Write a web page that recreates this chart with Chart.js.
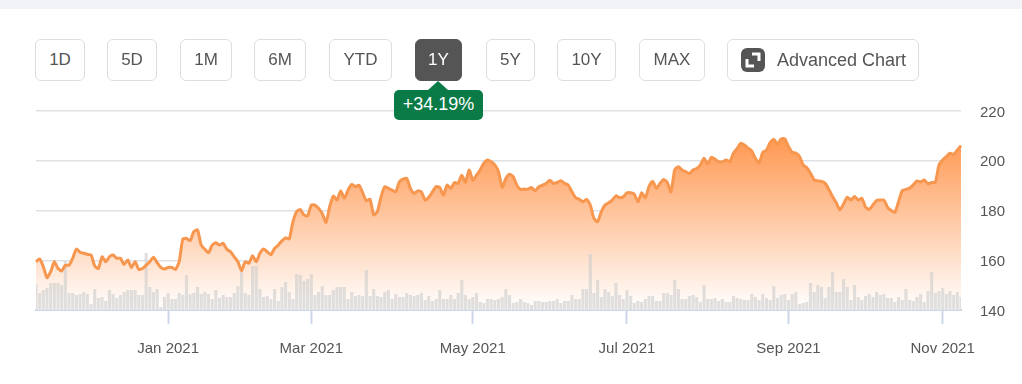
<!DOCTYPE html>
<html>
<head>
<meta charset="utf-8">
<title>1Y price chart</title>
<script src="https://cdn.jsdelivr.net/npm/chart.js@4"></script>
<style>
  html, body { margin: 0; padding: 0; background: #fff; width: 1022px; height: 384px; overflow: hidden; font-family: "Liberation Sans", Arial, sans-serif; }
  #strip { position: absolute; left: 0; top: 0; width: 1022px; height: 9px; background: #f2f3f7; }
  .btn { position: absolute; top: 39px; height: 40px; line-height: 40px; border: 1px solid #dedede; border-radius: 6px; box-sizing: content-box; text-align: center; font-size: 17px; color: #555; background: #fff; }
  .btn.active { background: #555; border-color: #555; color: #fff; }
  #badge { position: absolute; left: 394px; top: 90px; width: 89px; height: 30px; line-height: 29px; background: #0a7a47; color: #fff; border-radius: 5px; text-align: center; font-size: 18px; }
  #badge:before { content: ""; position: absolute; left: 34px; top: -9px; border-left: 10px solid transparent; border-right: 10px solid transparent; border-bottom: 9px solid #0a7a47; }
  #icon { position: absolute; left: 13px; top: 8px; }
  #advLabel { position: absolute; left: 49px; top: 0; font-size: 18px; white-space: nowrap; }
</style>
</head>
<body>
<div id="strip"></div>
<canvas id="priceChart" width="1022" height="384" style="position:absolute;left:0;top:0"></canvas>
<div id="buttons"></div>
<div id="badge">+34.19%</div>
<script>
const rangeNames = ["1D", "5D", "1M", "6M", "YTD", "1Y", "5Y", "10Y", "MAX"];
const rangeLefts = [35, 107, 180, 254, 329, 415, 486, 557, 639];
const rangeWidths = [48, 48, 50, 50, 61, 45, 47, 57, 64];
const activeRange = "1Y";

const tickIndex = [36, 75, 119, 161, 205, 247];
const tickLabels = ["Jan 2021", "Mar 2021", "May 2021", "Jul 2021", "Sep 2021", "Nov 2021"];

// daily close
const prices = [
  159.4, 160.5, 157.4, 153, 155.4, 159.4, 156.7, 155.7, 158, 158,
  160.8, 164.5, 163.2, 162.8, 162.4, 162.1, 157.7, 156.7, 161.4, 159.4,
  161.4, 162.1, 160.8, 160.8, 158.3, 160.1, 157.1, 159.4, 156.3, 156.7,
  158, 159.4, 161.2, 159, 157.1, 156.5, 157.1, 157.1, 156.3, 159.4,
  168.5, 168.8, 167.9, 171.5, 172.2, 166.1, 164.4, 163, 166.1, 167,
  166.1, 166.8, 164.4, 163.4, 161.4, 159.4, 155.8, 159.4, 158.8, 161.8,
  159.4, 162.8, 164.5, 163.4, 162.2, 164.8, 166.1, 167.8, 169, 168.6,
  175.5, 179.5, 180.4, 178.2, 177.8, 182.2, 182.2, 180.8, 178.8, 175.2,
  181.5, 185.8, 184.2, 187.9, 184.9, 188.2, 190.5, 189.6, 190.2, 187.1,
  183.9, 184.5, 178.2, 179.5, 185.5, 189.6, 188.9, 188.2, 187.5, 191.6,
  192.6, 192.9, 188.9, 186.9, 187.9, 187.5, 184.2, 185.3, 187.5, 189.6,
  189.3, 186.2, 190.2, 188.9, 191.3, 190.9, 194.2, 191.3, 196.3, 192.2,
  194.2, 196.3, 199, 200.3, 199.6, 198.3, 195.6, 189.3, 192.9, 194.6,
  193.6, 190.2, 188.5, 188.6, 188.6, 189.2, 187.9, 189.6, 190.2, 190.9,
  192.2, 190.9, 191.3, 192, 190.9, 190.2, 187.5, 185.1, 184.5, 183.5,
  184.5, 182.2, 176.8, 175.5, 179.5, 182.2, 183.1, 184.2, 185.9, 185.1,
  185.5, 187.1, 187.1, 186.6, 183.5, 187.1, 185.1, 189.6, 191.8, 188.9,
  190.9, 192.5, 191.3, 187.5, 196.3, 197.6, 196.3, 195.6, 194.9, 196.3,
  196.9, 198.3, 201, 198.7, 201.4, 200.6, 199.6, 199.6, 200.3, 199.6,
  203, 204.9, 207, 206.3, 205.1, 203.9, 201, 199.2, 203.4, 204.3,
  207.3, 208.6, 206.7, 208.8, 208.8, 205.7, 203.4, 203.1, 201.7, 198.3,
  197.2, 195, 192.3, 191.9, 191.7, 190.9, 188.5, 185.6, 183.2, 180.2,
  182.6, 185.3, 184.2, 185.6, 184.2, 184.9, 181.3, 180.5, 182.2, 184,
  184.2, 184.2, 181.3, 180, 179.3, 183.6, 188, 188.5, 189, 190.3,
  191.9, 191.5, 192.3, 190.7, 191.3, 191.3, 198.3, 200.3, 201.7, 203,
  202.6, 204.3, 206.1
];

// volume bars, relative height
const volumes = [
  26, 17, 20, 22, 27, 27, 27, 25, 49, 17,
  17, 15, 16, 18, 16, 6, 21, 12, 13, 9,
  20, 16, 12, 15, 18, 20, 20, 20, 15, 15,
  57, 23, 18, 21, 3, 13, 17, 11, 11, 17,
  15, 35, 16, 17, 23, 16, 18, 16, 11, 20,
  12, 15, 13, 13, 17, 24, 41, 17, 15, 44,
  44, 21, 13, 14, 11, 21, 9, 23, 28, 18,
  11, 36, 35, 29, 31, 36, 15, 18, 24, 15,
  15, 20, 23, 23, 23, 11, 18, 14, 15, 14,
  40, 14, 21, 14, 13, 18, 20, 11, 16, 13,
  13, 17, 15, 14, 15, 17, 10, 14, 9, 11,
  20, 11, 11, 15, 11, 17, 30, 15, 11, 13,
  17, 8, 7, 11, 11, 10, 11, 13, 21, 15,
  7, 8, 11, 8, 7, 5, 9, 9, 8, 8,
  9, 9, 11, 7, 9, 9, 15, 11, 11, 21,
  21, 56, 17, 30, 13, 21, 18, 14, 27, 15,
  11, 20, 14, 7, 9, 8, 11, 14, 14, 9,
  9, 17, 17, 15, 30, 21, 11, 11, 14, 15,
  13, 8, 25, 11, 11, 12, 9, 11, 8, 8,
  14, 12, 11, 10, 10, 16, 13, 10, 16, 12,
  10, 24, 12, 15, 16, 10, 16, 18, 6, 7,
  8, 27, 18, 25, 23, 12, 23, 38, 18, 18,
  31, 23, 10, 25, 13, 10, 14, 16, 13, 18,
  15, 16, 12, 12, 8, 13, 10, 21, 10, 9,
  13, 16, 8, 19, 38, 17, 19, 22, 16, 19,
  15, 18, 13
];

const volumeAxisMax = 199;

function buildButtons() {
  const holder = document.getElementById("buttons");
  rangeNames.forEach((name, i) => {
    const btn = document.createElement("div");
    btn.className = name === activeRange ? "btn active" : "btn";
    btn.style.left = rangeLefts[i] + "px";
    btn.style.width = rangeWidths[i] + "px";
    btn.textContent = name;
    holder.appendChild(btn);
  });

  const adv = document.createElement("div");
  adv.className = "btn";
  adv.style.left = "727px";
  adv.style.width = "190px";
  adv.innerHTML =
    '<svg id="icon" width="24" height="24" viewBox="0 0 24 24">' +
    '<rect width="24" height="24" rx="6" fill="#555"/>' +
    '<path d="M11 6H18V13M13 18H6V11" fill="none" stroke="#fff" stroke-width="3"/>' +
    "</svg>" +
    '<span id="advLabel">Advanced Chart</span>';
  holder.appendChild(adv);
}

function areaGradient(context) {
  const area = context.chart.chartArea;
  if (!area) {
    return "#ffd0b0";
  }
  const gradient = context.chart.ctx.createLinearGradient(0, 138, 0, area.bottom);
  gradient.addColorStop(0, "rgb(255, 152, 82)");
  gradient.addColorStop(1, "rgb(255, 255, 255)");
  return gradient;
}

buildButtons();

const labels = prices.map((p, i) => i);

new Chart(document.getElementById("priceChart").getContext("2d"), {
  data: {
    labels: labels,
    datasets: [
      {
        type: "line",
        data: prices,
        yAxisID: "y",
        borderWidth: 0,
        backgroundColor: areaGradient,
        fill: "start",
        pointRadius: 0,
        tension: 0.2,
        order: 3,
      },
      {
        type: "bar",
        data: volumes,
        yAxisID: "volume",
        backgroundColor: "rgba(205, 205, 205, 0.62)",
        barPercentage: 0.85,
        categoryPercentage: 1,
        order: 2,
      },
      {
        type: "line",
        data: prices,
        yAxisID: "y",
        borderColor: "#f7964e",
        borderWidth: 3,
        fill: false,
        pointRadius: 0,
        tension: 0.2,
        order: 1,
      },
    ],
  },
  options: {
    responsive: false,
    animation: false,
    layout: { padding: { left: 36, top: 111, right: 0, bottom: 0 } },
    plugins: { legend: { display: false }, tooltip: { enabled: false }, title: { display: false } },
    scales: {
      x: {
        type: "category",
        offset: false,
        border: { color: "#ccd6eb", width: 2 },
        grid: { offset: false, drawOnChartArea: false, drawTicks: true, tickLength: 14, tickColor: "#ccd6eb", tickWidth: 2 },
        afterBuildTicks: (axis) => {
          axis.ticks = axis.ticks.filter((t) => tickIndex.includes(t.value));
        },
        afterFit: (axis) => {
          axis.height = 74;
        },
        ticks: {
          autoSkip: false,
          maxRotation: 0,
          minRotation: 0,
          padding: 16,
          color: "#555",
          font: { family: "'Liberation Sans', Arial, sans-serif", size: 15 },
          callback: (value) => tickLabels[tickIndex.indexOf(value)],
        },
      },
      y: {
        position: "right",
        min: 140,
        max: 220,
        border: { display: false },
        grid: { color: "#dfe1e6", lineWidth: 1.5, drawTicks: false },
        afterFit: (axis) => {
          axis.width = 61;
        },
        ticks: {
          stepSize: 20,
          padding: 19,
          labelOffset: 1.5,
          color: "#555",
          font: { family: "'Liberation Sans', Arial, sans-serif", size: 15 },
        },
      },
      volume: {
        display: false,
        min: 0,
        max: volumeAxisMax,
      },
    },
  },
});
</script>
</body>
</html>
